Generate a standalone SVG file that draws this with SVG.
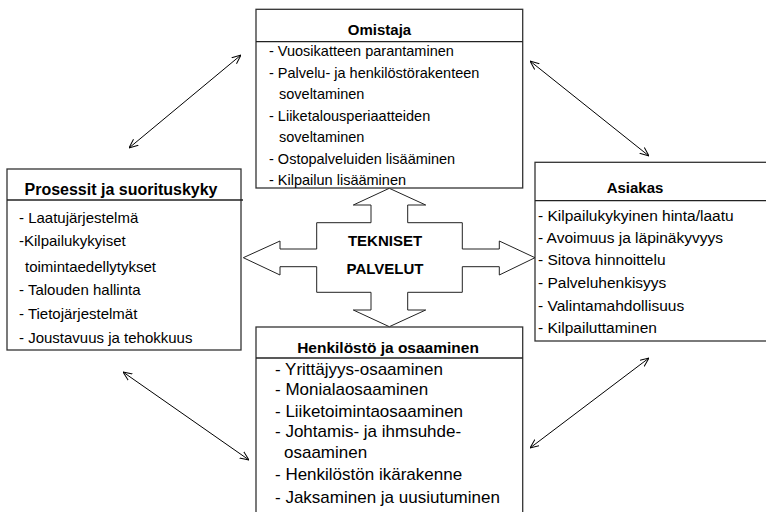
<svg xmlns="http://www.w3.org/2000/svg" width="766" height="512" viewBox="0 0 766 512">
<defs>
<style>
.box{fill:#fff;stroke:#333;stroke-width:1.3}
.sep{stroke:#222;stroke-width:1.3}
text{font-family:"Liberation Sans",Arial,sans-serif;fill:#000}
.t{font-weight:bold}
.conn{stroke:#000;stroke-width:1;fill:none;marker-start:url(#ah);marker-end:url(#ah)}
</style>
<marker id="ah" viewBox="0 0 10 10" refX="10" refY="5" markerWidth="9" markerHeight="9" markerUnits="userSpaceOnUse" orient="auto-start-reverse">
<path d="M0,0.8 L10,5 L0,9.2" fill="none" stroke="#000" stroke-width="1.1"/>
</marker>
</defs>
<rect width="766" height="512" fill="#fff"/>

<g id="connectors">
<line class="conn" x1="241" y1="55" x2="129" y2="148"/>
<line class="conn" x1="530" y1="61" x2="649" y2="156"/>
<line class="conn" x1="123" y1="372" x2="249" y2="460"/>
<line class="conn" x1="649" y1="358" x2="530" y2="448"/>
</g>

<g id="omistaja">
<rect class="box" x="256" y="9.3" width="266.7" height="178.7"/>
<line class="sep" x1="256" y1="41.7" x2="522.7" y2="41.7"/>
<text class="t" x="379.5" y="35" font-size="15" text-anchor="middle">Omistaja</text>
<g font-size="14.5">
<text x="269" y="56">- Vuosikatteen parantaminen</text>
<text x="269" y="77.5">- Palvelu- ja henkilöstörakenteen</text>
<text x="279" y="99">soveltaminen</text>
<text x="269" y="120.5">- Liiketalousperiaatteiden</text>
<text x="279" y="142">soveltaminen</text>
<text x="269" y="163.5">- Ostopalveluiden lisääminen</text>
<text x="269" y="185">- Kilpailun lisääminen</text>
</g>
</g>

<g id="prosessit">
<rect class="box" x="7" y="169" width="234" height="181"/>
<line class="sep" x1="7" y1="200" x2="243" y2="200"/>
<text class="t" x="121" y="195" font-size="16" text-anchor="middle">Prosessit ja suorituskyky</text>
<g font-size="15">
<text x="19" y="223">- Laatujärjestelmä</text>
<text x="19" y="246">-Kilpailukykyiset</text>
<text x="25" y="272">toimintaedellytykset</text>
<text x="19" y="295">- Talouden hallinta</text>
<text x="19" y="319">- Tietojärjestelmät</text>
<text x="19" y="343">- Joustavuus ja tehokkuus</text>
</g>
</g>

<g id="asiakas">
<rect class="box" x="535" y="162.3" width="240" height="178.7"/>
<line class="sep" x1="535" y1="200.7" x2="766" y2="200.7"/>
<text class="t" x="635" y="193" font-size="15" text-anchor="middle">Asiakas</text>
<g font-size="15.5">
<text x="538" y="221">- Kilpailukykyinen hinta/laatu</text>
<text x="538" y="243">- Avoimuus ja läpinäkyvyys</text>
<text x="538" y="265">- Sitova hinnoittelu</text>
<text x="538" y="288">- Palveluhenkisyys</text>
<text x="538" y="311">- Valintamahdollisuus</text>
<text x="538" y="333">- Kilpailuttaminen</text>
</g>
</g>

<g id="henkilosto">
<rect class="box" x="256" y="327" width="266.7" height="200"/>
<line class="sep" x1="256" y1="358" x2="522.7" y2="358"/>
<text class="t" x="388" y="353" font-size="15.5" text-anchor="middle">Henkilöstö ja osaaminen</text>
<g font-size="17">
<text x="275" y="375">- Yrittäjyys-osaaminen</text>
<text x="275" y="395">- Monialaosaaminen</text>
<text x="275" y="417">- Liiketoimintaosaaminen</text>
<text x="275" y="437">- Johtamis- ja ihmsuhde-</text>
<text x="284" y="458">osaaminen</text>
<text x="275" y="480">- Henkilöstön ikärakenne</text>
<text x="275" y="503">- Jaksaminen ja uusiutuminen</text>
</g>
</g>

<g id="tekniset">
<polygon fill="#fff" stroke="#222" stroke-width="1" points="316.7,222.7 316.7,249 280,249 280,241 243.3,257.7 280,275 280,266.7 316.7,266.7 316.7,292.3 371,292.3 371,310 353.3,310 389.3,326.7 425.7,310 407.7,310 407.7,292.3 462.3,292.3 462.3,266.7 499.3,266.7 499.3,275 535,257.7 499.3,241 499.3,249 462.3,249 462.3,222.7 407.7,222.7 407.7,205 425.7,205 389.3,188.3 353.3,205 371,205 371,222.7"/>
<text class="t" x="385" y="246" font-size="15" text-anchor="middle">TEKNISET</text>
<text class="t" x="385" y="274" font-size="15" text-anchor="middle">PALVELUT</text>
</g>
</svg>
